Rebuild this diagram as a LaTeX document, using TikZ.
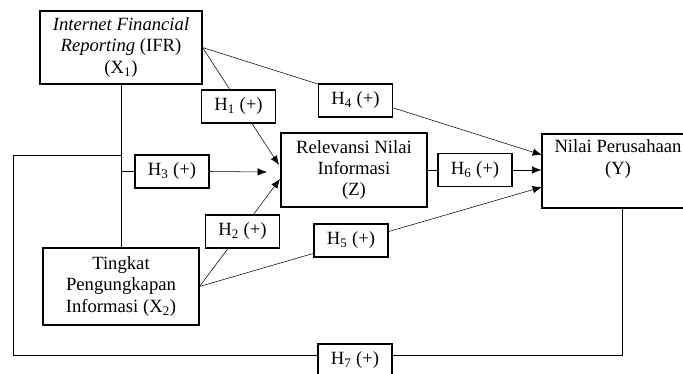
\documentclass[tikz,border=0pt]{standalone}
\usepackage{fontspec}
\setmainfont{Liberation Serif}
\usetikzlibrary{arrows.meta,backgrounds}
\begin{document}
\begin{tikzpicture}[x=0.75pt,y=-0.75pt,thick,>={Latex[length=7pt,width=5.5pt]},
    var/.style={draw,fill=white,align=center,inner sep=1pt,font=\fontsize{14}{16}\selectfont},
    hyp/.style={draw,fill=white,minimum width=55.5pt,minimum height=24.75pt,inner sep=0pt,font=\fontsize{14}{16}\selectfont}]
  \useasboundingbox (0,0) rectangle (683,374);
  \node (X1) [var,minimum width=121.5pt,minimum height=54.75pt] at (121,47.5) {\textit{Internet Financial}\\ \textit{Reporting} (IFR)\\ (X\textsubscript{1})};
  \node (X2) [var,minimum width=117pt,minimum height=57.75pt] at (121,286.5) {Tingkat\\ Pengungkapan\\ Informasi (X\textsubscript{2})};
  \node (Z) [var,minimum width=109.5pt,minimum height=55.5pt] at (354,170) {Relevansi Nilai\\ Informasi\\ (Z)};
  \node (Y) [var,minimum width=114pt,minimum height=55.5pt] at (618,171) {Nilai Perusahaan\\ (Y)\\ \strut};
  \node (H1) [hyp] at (238.5,106.5) {H\textsubscript{1} (+)};
  \node (H2) [hyp] at (242.5,231.5) {H\textsubscript{2} (+)};
  \node (H3) [hyp] at (172,171.5) {H\textsubscript{3} (+)};
  \node (H4) [hyp] at (355.5,100.5) {H\textsubscript{4} (+)};
  \node (H5) [hyp] at (351,240.5) {H\textsubscript{5} (+)};
  \node (H6) [hyp] at (475,170) {H\textsubscript{6} (+)};
  \node (H7) [hyp] at (355,360.5) {H\textsubscript{7} (+)};
  \coordinate (z1) at (279,165);
  \coordinate (z2) at (280,179);
  \coordinate (z3) at (267,172);
  \coordinate (y1) at (542,155);
  \coordinate (y3) at (542,187);
  \coordinate (lp1) at (13,155);
  \coordinate (lp2) at (13,355);
  \coordinate (lp3) at (622,355);
  \begin{pgfonlayer}{background}
    \draw [->] (X1.east) -- (z1);
    \draw [->] (X1.east) -- (y1);
    \draw [->] (X2.east) -- (z2);
    \draw [->] (X2.east) -- (y3);
    \draw [->] (Z.east) -- (Z.east -| Y.west);
    \draw (X1.south) -- (X2.north);
    \draw (H3.west -| X1.south) -- (H3.west);
    \draw [->] (H3.east) -- (z3);
    \draw (X1.south |- lp1) -- (lp1) -- (lp2) -- (H7.west |- lp2);
    \draw (H7.east |- lp3) -- (lp3) -- (lp3 |- Y.south);
  \end{pgfonlayer}
\end{tikzpicture}
\end{document}
